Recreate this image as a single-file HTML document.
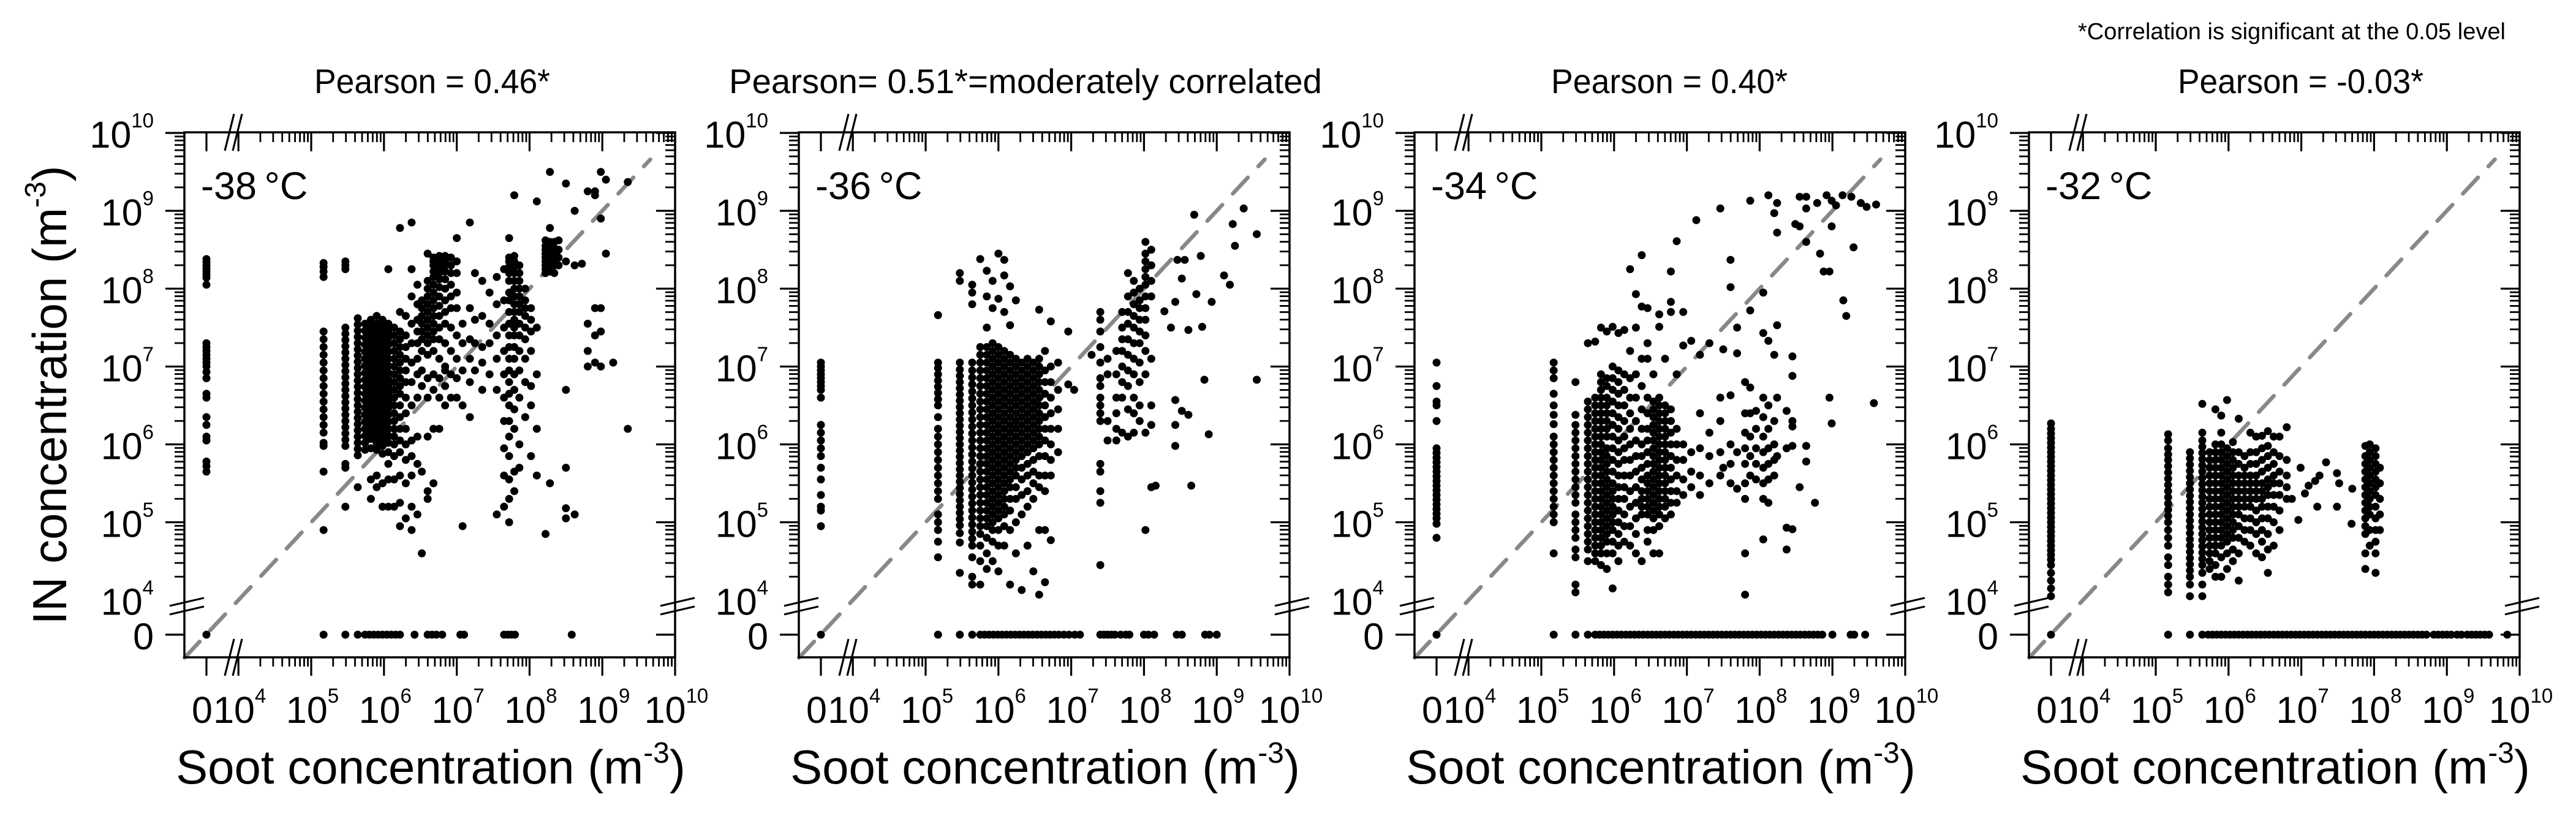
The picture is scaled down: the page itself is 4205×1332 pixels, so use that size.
<!DOCTYPE html>
<html><head><meta charset="utf-8"><title>IN vs Soot concentration</title>
<style>html,body{margin:0;padding:0;background:#fff;}svg{display:block;font-family:"Liberation Sans",Arial,sans-serif;}</style>
</head><body>
<svg id="fig" xmlns="http://www.w3.org/2000/svg" width="4205" height="1332" viewBox="0 0 4205 1332">
<rect x="0" y="0" width="4205" height="1332" fill="#fff"/>
<text x="3392" y="64" font-size="38" textLength="698" lengthAdjust="spacingAndGlyphs">*Correlation is significant at the 0.05 level</text>
<text x="513" y="152" font-size="56" textLength="385" lengthAdjust="spacingAndGlyphs">Pearson = 0.46*</text>
<text x="1190" y="152" font-size="56" textLength="968" lengthAdjust="spacingAndGlyphs">Pearson= 0.51*=moderately correlated</text>
<text x="2532" y="152" font-size="56" textLength="386" lengthAdjust="spacingAndGlyphs">Pearson = 0.40*</text>
<text x="3555" y="152" font-size="56" textLength="401" lengthAdjust="spacingAndGlyphs">Pearson = -0.03*</text>
<text transform="translate(108,645) rotate(-90)" text-anchor="middle" font-size="78">IN concentration (m<tspan font-size="48" dy="-34">-3</tspan><tspan dy="34">)</tspan></text>
</svg>
<script>
// ---- data: log10 exponents; null = zero concentration ----
const panelLefts = [301, 1304, 2309, 3312];
const tempLabels = ["-38\u2009°C", "-36\u2009°C", "-34\u2009°C", "-32\u2009°C"];
const xTickExps = [5, 6, 7, 8, 9, 10];
const yTickExps = [5, 6, 7, 8, 9, 10];

// Panel 1 (-38 C)
const soot1 = [null,5.17,5.47,5.64,5.74,5.82,5.9,5.98,6.06,6.14,6.22,6.3,6.38,6.46,6.52,6.6,6.68,6.76,6.84,6.92,7.0,7.08,7.18,7.25,7.35,7.45,7.55,7.65,7.72,7.79,7.86,7.94,8.02,8.1,8.22,8.28,8.34,8.4,8.5,8.62,8.72,8.8,8.9,8.98,9.05,9.15,9.35];
const in1 = [
[8.38,8.34,8.3,8.26,8.22,8.18,8.14,8.05,7.3,7.25,7.2,7.15,7.1,7.05,7.0,6.93,6.85,6.65,6.6,6.35,6.25,6.1,6.05,5.78,5.72,5.65],
[8.33,8.28,8.22,8.15,7.45,7.35,7.25,7.15,7.05,6.95,6.85,6.75,6.65,6.55,6.45,6.35,6.25,6.15,6.02,5.98,5.65,4.9],
[8.35,8.3,8.25,7.5,7.42,7.34,7.26,7.18,7.1,7.02,6.94,6.86,6.78,6.7,6.62,6.54,6.46,6.38,6.3,6.22,6.14,6.06,5.98,5.75,5.7,5.2],
[7.62,7.54,7.46,7.38,7.3,7.22,7.14,7.06,6.98,6.9,6.82,6.74,6.66,6.58,6.5,6.42,6.34,6.26,6.18,6.1,6.02,5.94,5.86,5.45],
[7.55,7.46,7.37,7.28,7.19,7.1,7.01,6.92,6.83,6.74,6.65,6.56,6.47,6.38,6.29,6.2,6.11,6.02,5.93],
[7.6,7.51,7.42,7.33,7.24,7.15,7.06,6.97,6.88,6.79,6.7,6.61,6.52,6.43,6.34,6.25,6.16,6.07,5.95,5.55,5.3],
[7.65,7.55,7.46,7.37,7.28,7.19,7.1,7.01,6.92,6.83,6.74,6.65,6.56,6.47,6.38,6.29,6.2,6.11,6.02,5.93,5.6,5.45],
[7.6,7.51,7.42,7.33,7.24,7.15,7.06,6.97,6.88,6.79,6.7,6.61,6.52,6.43,6.34,6.25,6.16,6.07,5.98,5.88,5.5,5.2],
[8.25,7.55,7.46,7.37,7.28,7.19,7.1,7.01,6.92,6.83,6.74,6.65,6.56,6.47,6.38,6.29,6.2,6.11,6.02,5.9,5.75,5.55,5.2],
[7.5,7.4,7.3,7.2,7.1,7.0,6.9,6.8,6.7,6.6,6.5,6.4,6.3,6.2,6.1,6.0,5.85,5.55,5.2],
[8.78,7.7,7.45,7.35,7.25,7.15,7.05,6.95,6.85,6.75,6.65,6.5,6.35,6.2,6.05,5.9,5.6,5.25,4.95],
[7.65,7.4,7.25,7.1,6.95,6.8,6.6,6.4,6.2,6.0,5.8,5.5,5.05],
[8.85,8.25,7.9,7.55,7.3,7.05,6.8,6.5,6.05,5.85,5.6,5.2,4.9],
[8.05,7.8,7.6,7.45,7.3,7.1,6.9,6.6,6.1,5.75,5.1],
[7.85,7.75,7.65,7.55,7.45,7.35,7.2,6.95,6.75,5.65,4.6],
[8.45,8.1,8.0,7.9,7.8,7.7,7.6,7.5,7.4,7.3,7.15,6.85,6.6,6.1,5.4,5.3],
[8.4,8.35,8.3,8.22,8.15,8.05,7.95,7.85,7.75,7.65,7.55,7.45,7.35,7.2,6.9,6.7,6.2,5.5],
[8.42,8.37,8.32,8.27,8.2,8.12,8.02,7.9,7.78,7.65,7.5,7.35,7.1,6.85,6.6,6.2],
[8.42,8.36,8.3,8.22,8.12,8.0,7.85,7.7,7.55,7.3,7.0,6.75,6.5,6.95],
[8.4,8.3,8.2,8.05,7.9,7.75,7.5,7.2,6.9,6.6],
[8.65,8.35,8.2,7.95,7.75,7.4,7.1,6.85,6.6],
[7.55,7.3,6.95,6.5,4.95],
[8.85,7.75,7.35,7.1,6.8,6.35],
[8.2,7.6,7.3,6.95],
[8.1,7.65,7.25,7.05,6.7],
[7.95,7.55,7.3,6.9],
[8.15,7.8,7.4,7.1,6.7,5.1],
[8.25,7.85,7.5,7.2,6.9,6.6,6.3,5.95,5.6,5.2],
[8.65,8.4,8.35,8.28,8.2,8.1,7.95,7.85,7.7,7.55,7.4,7.25,7.1,6.95,6.8,6.65,6.5,6.3,6.1,5.85,5.55,5.3,5.0],
[9.2,8.42,8.35,8.28,8.2,8.1,8.0,7.9,7.8,7.7,7.6,7.5,7.4,7.25,7.1,6.9,6.7,6.45,6.2,5.65,5.4],
[8.3,8.2,8.1,8.0,7.9,7.8,7.7,7.55,7.4,7.2,6.95,6.6,6.0,5.7],
[8.0,7.85,7.75,7.65,7.5,7.35,7.1,6.8,6.35],
[7.75,7.6,7.45,7.2,6.75,6.5,5.85],
[9.12,7.5,6.9,6.2,5.6],
[8.62,8.55,8.5,8.45,8.4,8.35,8.3,8.25,8.2,4.85],
[9.5,8.78,8.6,8.52,8.45,8.4,8.33,8.27,8.22,5.5],
[8.6,8.52,8.45,8.38,8.3,8.2],
[8.62,8.5,8.4,8.3],
[8.35,9.35,6.7,5.7,5.18,5.05],
[9.0,8.3,5.1],
[8.32],
[7.55,7.2,7.0,9.25],
[9.25,9.2,7.75,7.4,7.05],
[7.75,7.45,7.0,9.5,8.9],
[9.4,8.45],
[7.05],
[9.37,6.2]
];
const zeroIn1 = [null,5.17,5.47,5.64,5.74,5.8,5.86,5.92,5.98,6.04,6.1,6.16,6.22,6.42,6.6,6.66,6.72,6.8,7.05,7.1,7.65,7.7,7.75,7.8,8.58];

// Panel 2 (-36 C)
const soot2 = [null,5.17,5.47,5.64,5.75,5.84,5.92,6.0,6.08,6.16,6.24,6.32,6.4,6.48,6.56,6.64,6.72,6.82,6.96,7.04,7.28,7.4,7.5,7.62,7.7,7.78,7.86,7.94,8.02,8.1,8.16,8.28,8.37,8.43,8.46,8.52,8.56,8.61,8.65,8.69,8.72,8.78,8.8,8.83,8.89,8.93,9.1,9.18,9.22,9.25,9.37,9.55];
const in2 = [
[7.05,7.0,6.95,6.9,6.85,6.8,6.75,6.7,6.6,6.25,6.15,6.05,5.95,5.85,5.7,5.55,5.35,5.2,5.15,4.95],
[7.66,7.05,6.98,6.9,6.82,6.74,6.66,6.58,6.5,6.35,6.2,6.1,6.0,5.9,5.8,5.7,5.6,5.5,5.4,5.3,5.1,5.0,4.9,4.75,4.55],
[8.2,8.1,7.05,6.96,6.88,6.8,6.72,6.64,6.56,6.48,6.4,6.32,6.24,6.16,6.08,6.0,5.92,5.84,5.76,5.68,5.6,5.52,5.44,5.36,5.28,5.2,5.12,5.04,4.96,4.86,4.74,4.35],
[8.05,7.95,7.8,7.05,6.95,6.86,6.77,6.68,6.59,6.5,6.41,6.32,6.23,6.14,6.05,5.96,5.87,5.78,5.69,5.6,5.51,5.42,5.33,5.24,5.15,5.06,4.97,4.88,4.79,4.7,4.55,4.3,4.2],
[8.38,7.25,7.15,7.05,6.95,6.85,6.75,6.65,6.55,6.45,6.35,6.25,6.15,6.05,5.95,5.85,5.75,5.65,5.55,5.45,5.35,5.25,5.15,5.05,4.95,4.85,4.7,4.5,4.2],
[8.23,7.9,7.5,7.25,7.15,7.05,6.95,6.85,6.75,6.65,6.55,6.45,6.35,6.25,6.15,6.05,5.95,5.85,5.75,5.65,5.55,5.45,5.35,5.25,5.15,5.05,4.95,4.8,4.6,4.4],
[8.1,7.75,7.3,7.2,7.1,7.0,6.9,6.8,6.7,6.6,6.5,6.4,6.3,6.2,6.1,6.0,5.9,5.8,5.7,5.6,5.5,5.4,5.3,5.2,5.1,5.0,4.9,4.75,4.5],
[8.45,7.87,7.25,7.15,7.05,6.95,6.85,6.75,6.65,6.55,6.45,6.35,6.25,6.15,6.05,5.95,5.85,5.75,5.65,5.55,5.45,5.35,5.25,5.15,5.05,4.9,4.7,4.37],
[8.37,8.17,7.7,7.2,7.1,7.0,6.9,6.8,6.7,6.6,6.5,6.4,6.3,6.2,6.1,6.0,5.9,5.8,5.7,5.6,5.5,5.4,5.3,5.2,5.1,4.95,4.7],
[8.03,7.53,7.15,7.05,6.95,6.85,6.75,6.65,6.55,6.45,6.35,6.25,6.15,6.05,5.95,5.85,5.75,5.65,5.55,5.45,5.3,5.15,4.9,4.2],
[7.85,7.1,7.0,6.9,6.8,6.7,6.6,6.5,6.4,6.3,6.2,6.1,6.0,5.9,5.8,5.7,5.6,5.45,5.3,5.0,4.6],
[7.05,6.95,6.85,6.75,6.65,6.55,6.45,6.35,6.25,6.15,6.05,5.95,5.85,5.7,5.55,5.35,5.1,4.13],
[7.1,7.0,6.9,6.8,6.7,6.6,6.5,6.4,6.3,6.2,6.1,6.0,5.9,5.75,5.6,5.4,5.2,4.7],
[7.05,6.95,6.85,6.75,6.65,6.55,6.45,6.35,6.25,6.15,6.05,5.95,5.8,5.65,5.5,5.3,4.37],
[7.73,7.1,7.0,6.9,6.8,6.7,6.6,6.5,6.4,6.3,6.2,6.1,6.0,5.85,5.6,5.45,4.9,4.07],
[7.2,6.95,6.8,6.65,6.5,6.35,6.2,6.05,5.85,5.6,5.4,4.9,4.23],
[7.58,7.0,6.8,6.6,6.4,6.2,6.0,5.8,5.6,4.77],
[7.05,6.7,6.45,6.2,5.9],
[7.45,6.77],
[6.7],
[7.15],
[7.7,7.6,7.45,7.25,7.05,6.85,6.75,6.6,6.5,6.4,6.3,5.75,5.65,5.4,5.25,4.45],
[7.1,6.9,6.3,6.05],
[7.2,6.9,6.6,6.4,6.2,6.05],
[7.7,7.5,7.35,7.2,7.0,6.8,6.6,6.15],
[8.2,7.9,7.7,7.55,7.35,7.15,6.95,6.75,6.45,6.1],
[8.1,7.95,7.8,7.65,7.5,7.3,7.1,6.9,6.6,6.4,6.15],
[8.0,7.85,7.75,7.6,7.45,7.3,7.05,6.8,6.5,6.3],
[8.6,8.45,8.35,8.25,8.15,8.05,7.9,7.75,7.6,7.4,7.2,6.9,6.15,4.9],
[8.5,8.3,8.1,7.9,7.1,6.5,6.25,5.45],
[5.47],
[7.71],
[7.5],
[7.83,6.57,6.25,5.98],
[8.37],
[8.13,6.43],
[8.37],
[7.47,6.38],
[5.47],
[8.95],
[7.93],
[8.42],
[7.51],
[6.83],
[6.13],
[7.83],
[8.17],
[8.05],
[8.83],
[8.55],
[9.03],
[8.7,6.83]
];
const zeroIn2 = [null,5.17,5.47,5.64,5.75,5.81,5.87,5.93,5.99,6.05,6.11,6.17,6.23,6.29,6.35,6.41,6.47,6.53,6.59,6.65,6.71,6.77,6.83,6.9,6.97,7.05,7.12,7.4,7.45,7.5,7.55,7.6,7.68,7.75,7.8,8.0,8.06,8.14,8.45,8.52,8.84,8.9,9.0];

// Panel 3 (-34 C)
const soot3 = [null,5.17,5.47,5.64,5.74,5.82,5.9,5.98,6.06,6.14,6.22,6.3,6.38,6.46,6.54,6.62,6.7,6.78,6.86,6.95,7.06,7.13,7.18,7.31,7.46,7.5,7.6,7.69,7.8,7.87,7.95,8.05,8.12,8.2,8.24,8.37,8.45,8.49,8.55,8.64,8.76,8.79,8.83,8.88,8.92,8.96,8.99,9.05,9.14,9.15,9.19,9.26,9.29,9.39,9.47,9.57,9.6];
const in3 = [
[7.05,6.75,6.55,6.5,6.3,5.95,5.89,5.83,5.77,5.71,5.65,5.59,5.53,5.47,5.41,5.35,5.29,5.23,5.17,5.11,5.05,4.98,4.8],
[7.05,6.95,6.85,6.65,6.5,6.38,6.26,6.1,6.0,5.9,5.8,5.7,5.6,5.5,5.4,5.3,5.2,5.1,5.0,4.6],
[6.8,6.38,6.25,6.15,6.05,5.95,5.85,5.75,5.65,5.55,5.45,5.35,5.25,5.1,5.0,4.9,4.8,4.65,4.55,4.2,4.1],
[7.3,6.55,6.45,6.35,6.25,6.15,6.05,5.95,5.85,5.75,5.65,5.55,5.45,5.35,5.25,5.15,5.05,4.95,4.85,4.75,4.65,4.5],
[7.32,6.6,6.5,6.4,6.3,6.2,6.1,6.0,5.9,5.8,5.7,5.6,5.5,5.4,5.3,5.2,5.1,5.0,4.9,4.8,4.7,4.6,4.5],
[7.5,6.9,6.8,6.7,6.6,6.5,6.4,6.3,6.2,6.1,6.0,5.9,5.8,5.7,5.6,5.5,5.4,5.3,5.2,5.1,5.0,4.9,4.8,4.7,4.6,4.45],
[7.45,6.85,6.75,6.6,6.5,6.4,6.3,6.2,6.1,5.95,5.85,5.75,5.65,5.55,5.45,5.35,5.25,5.15,5.05,4.95,4.85,4.75,4.6,4.4],
[7.51,7.0,6.85,6.7,6.55,6.4,6.25,6.1,5.95,5.8,5.65,5.5,5.4,5.3,5.2,5.1,5.0,4.9,4.75,4.6,4.15],
[7.43,6.95,6.8,6.65,6.5,6.35,6.2,6.05,5.9,5.75,5.6,5.45,5.3,5.15,5.0,4.85,4.7,4.5],
[7.47,6.9,6.7,6.5,6.3,6.1,5.95,5.8,5.6,5.45,5.3,5.1,4.95,4.75],
[8.25,7.2,6.85,6.6,6.4,6.2,6.0,5.8,5.6,5.4,5.2,4.95,4.7],
[7.93,7.5,6.9,6.6,6.3,6.05,5.85,5.65,5.45,5.25,5.05,4.85,4.6],
[8.43,7.77,7.1,6.75,6.45,6.2,6.0,5.85,5.7,5.55,5.4,5.3,5.2,5.1,4.5],
[7.75,7.3,7.1,6.6,6.4,6.2,6.05,5.9,5.75,5.6,5.5,5.4,5.3,5.2,5.1,4.9,4.75],
[6.9,6.55,6.45,6.35,6.25,6.15,6.05,5.95,5.85,5.75,5.65,5.55,5.45,5.35,5.25,5.15,5.05,4.9,4.6],
[7.67,7.51,6.6,6.5,6.4,6.3,6.2,6.1,6.0,5.9,5.8,5.7,5.6,5.5,5.4,5.3,5.2,5.1,4.95,4.6],
[7.1,6.5,6.4,6.3,6.2,6.1,6.0,5.9,5.8,5.7,5.6,5.5,5.4,5.3,5.2,5.05],
[8.22,7.83,7.7,6.45,6.3,6.15,6.0,5.85,5.7,5.55,5.4,5.25,5.1],
[8.61,6.9,6.2,6.0,5.8,5.6,5.4,5.25],
[7.7,7.27,6.0,5.8,5.55,5.35],
[7.33,5.9,5.65,5.45],
[8.88],
[7.15,6.4,5.95,5.6,5.35],
[7.3,6.15,5.85,5.5],
[9.03,6.6,6.3,5.9,5.6],
[7.22,5.7],
[8.37,8.02,6.63,6.0,5.75,5.5],
[7.5,7.17,5.9,5.43],
[6.8,6.4,6.15,5.95,5.75,5.5,5.3,4.6,4.07],
[9.13,7.72,6.73,6.4,6.1,5.85,5.6],
[6.43,6.2,5.95,5.75,5.55],
[7.95,7.43,6.6,6.35,6.1,5.9,5.7,5.5,5.3,4.78],
[9.2,7.33,6.5,6.2,5.95,5.75,5.55,5.25],
[8.97,7.15,6.3,6.0,5.8,5.6],
[9.1,8.72,7.53,6.6,5.85],
[6.43,5.95,4.93,4.65],
[7.13,6.88,6.3,6.23,5.98,4.91],
[8.83],
[9.18,8.8,5.45],
[9.18,9.03,8.6,5.98,5.78],
[5.25],
[9.1],
[8.45],
[8.22],
[9.2],
[8.22,6.6],
[9.13,8.8,6.27],
[9.07],
[9.2],
[7.85],
[7.65],
[9.18],
[8.53],
[9.1],
[9.05],
[6.53],
[9.08]
];
const zeroIn3 = [null,5.17,5.47,5.64,5.74,5.8,5.86,5.92,5.98,6.04,6.1,6.16,6.22,6.28,6.34,6.4,6.46,6.52,6.58,6.64,6.7,6.76,6.82,6.88,6.94,7.0,7.06,7.12,7.18,7.24,7.3,7.36,7.42,7.48,7.54,7.6,7.66,7.72,7.78,7.84,7.9,7.96,8.02,8.08,8.14,8.2,8.26,8.32,8.38,8.44,8.5,8.56,8.62,8.68,8.74,8.8,8.86,9.0,9.25,9.3,9.45];

// Panel 4 (-32 C)
const soot4 = [null,5.17,5.47,5.64,5.74,5.82,5.9,5.98,6.06,6.14,6.22,6.3,6.38,6.46,6.54,6.62,6.7,6.8,6.87,6.96,6.99,7.05,7.1,7.19,7.22,7.25,7.34,7.49,7.52,7.69,7.7,7.88,7.94,8.02,8.08];
const in4 = [
[6.27,6.2,6.14,6.08,6.02,5.96,5.9,5.84,5.78,5.72,5.66,5.6,5.54,5.48,5.42,5.36,5.3,5.24,5.18,5.12,5.06,5.0,4.94,4.88,4.82,4.76,4.7,4.64,4.58,4.52,4.45,4.35,4.25,4.15,4.05],
[6.13,6.05,5.95,5.87,5.8,5.72,5.64,5.56,5.48,5.4,5.32,5.24,5.16,5.08,5.0,4.9,4.8,4.7,4.55,4.45,4.3,4.2,4.1],
[5.9,5.82,5.74,5.66,5.58,5.5,5.42,5.34,5.26,5.18,5.1,5.02,4.94,4.86,4.78,4.7,4.62,4.54,4.46,4.38,4.3,4.2,4.05],
[6.52,6.15,6.05,5.97,5.89,5.81,5.73,5.65,5.57,5.49,5.41,5.33,5.25,5.17,5.09,5.01,4.93,4.85,4.77,4.69,4.61,4.53,4.45,4.35,4.2,4.05],
[5.9,5.8,5.7,5.6,5.5,5.4,5.3,5.2,5.1,5.0,4.9,4.8,4.7,4.6,4.5,4.4],
[6.45,6.0,5.9,5.8,5.7,5.6,5.5,5.4,5.3,5.2,5.1,5.0,4.9,4.8,4.7,4.6,4.45,4.3],
[6.37,6.15,6.0,5.9,5.8,5.7,5.6,5.5,5.4,5.3,5.2,5.1,5.0,4.9,4.8,4.7,4.55,4.3],
[6.57,5.95,5.85,5.75,5.65,5.55,5.45,5.35,5.25,5.15,5.05,4.95,4.85,4.75,4.6,4.4],
[6.03,5.9,5.8,5.7,5.6,5.5,5.4,5.3,5.2,5.1,5.0,4.9,4.8,4.65,4.5],
[6.33,5.9,5.75,5.6,5.5,5.4,5.3,5.2,5.1,4.95,4.8,4.6,4.25],
[5.85,5.7,5.6,5.5,5.4,5.3,5.2,5.05,4.9,4.75],
[6.15,5.9,5.75,5.6,5.5,5.4,5.3,5.2,5.05,4.9,4.7],
[6.1,5.9,5.75,5.6,5.5,5.4,5.3,5.15,5.0,4.85,4.6],
[6.11,5.95,5.8,5.65,5.5,5.4,5.3,5.2,5.05,4.9,4.75,4.55],
[6.17,5.98,5.85,5.7,5.55,5.45,5.35,5.2,5.05,4.85,4.65,4.35],
[6.1,5.9,5.75,5.6,5.5,5.35,5.2,5.0,4.7],
[6.1,5.85,5.65,5.5,5.35,5.15,4.9],
[6.22,5.8,5.6,5.45,5.3],
[5.3],
[5.03],
[5.7],
[5.37],
[5.47],
[5.53],
[5.2],
[5.6],
[5.77],
[5.63,5.2],
[5.5],
[4.98],
[5.43],
[5.98,5.85,5.75,5.65,5.55,5.45,5.35,5.25,5.15,5.05,4.95,4.85,4.6,4.4],
[6.0,5.9,5.8,5.7,5.6,5.5,5.4,5.3,5.2,5.1,4.9,4.7],
[5.95,5.85,5.75,5.65,5.55,5.45,5.35,5.2,5.05,4.9,4.75,4.6,4.35],
[5.7,5.5,5.3,5.1,4.9]
];
const zeroIn4 = [null,5.17,5.47,5.64,5.72,5.78,5.84,5.9,5.96,6.02,6.08,6.14,6.2,6.26,6.32,6.38,6.44,6.5,6.56,6.62,6.68,6.74,6.8,6.86,6.92,6.98,7.04,7.1,7.16,7.22,7.28,7.34,7.4,7.46,7.52,7.58,7.64,7.7,7.76,7.82,7.88,7.94,8.0,8.06,8.12,8.18,8.24,8.3,8.36,8.42,8.48,8.54,8.6,8.66,8.72,8.82,8.88,8.94,9.0,9.06,9.14,9.2,9.28,9.34,9.4,9.46,9.52,9.58,9.83];

const sootSets = [soot1, soot2, soot3, soot4];
const inSets = [in1, in2, in3, in4];
const zeroSets = [zeroIn1, zeroIn2, zeroIn3, zeroIn4];

// ---- geometry ----
const NS = "http://www.w3.org/2000/svg";
const svg = document.getElementById("fig");
const TOP = 216, BOT = 1073, W = 801;
const DEC_X = 118.8, DEC_Y = 127.1;
function xPos(L, e) { return e === null ? L + 36 : L + 207 + (e - 5) * DEC_X; }
function yPos(e) { return e === null ? 1036 : 217 + (10 - e) * DEC_Y; }
function mk(tag, attrs, parent) {
  const el = document.createElementNS(NS, tag);
  for (const k in attrs) el.setAttribute(k, attrs[k]);
  (parent || svg).appendChild(el);
  return el;
}
function line(g, x1, y1, x2, y2, w) {
  return mk("line", {x1: x1, y1: y1, x2: x2, y2: y2, stroke: "#000", "stroke-width": w || 3.2}, g);
}

panelLefts.forEach(function (L, p) {
  const R = L + W;
  const g = mk("g", {});
  
  

  const d = mk("line", {x1: xPos(L, 3.26), y1: yPos(3.26), x2: xPos(L, 9.66), y2: yPos(9.66),
    stroke: "#888", "stroke-width": 6.5, "stroke-dasharray": "36 25", "stroke-linecap": "round"}, g);
  
  

  const pts = mk("g", {fill: "#000"}, g);
  
  
  const soot = sootSets[p], inn = inSets[p];
  soot.forEach(function (sx, i) {
    inn[i].forEach(function (iy) {
      const c = mk("circle", {cx: xPos(L, sx).toFixed(1), cy: yPos(iy).toFixed(1), r: 6.5}, pts);
      
      
    });
  });
  zeroSets[p].forEach(function (sx) {
    const c = mk("circle", {cx: xPos(L, sx).toFixed(1), cy: yPos(null), r: 6.5}, pts);
    
    
  });

  const fr = mk("rect", {x: L, y: TOP, width: W, height: BOT - TOP, fill: "none", stroke: "#000", "stroke-width": 3.5}, g);
  
  

  const ax = mk("g", {}, g);
  
  
  for (let e = 4; e <= 10; e++) {
    const x = xPos(L, e);
    line(ax, x, TOP, x, TOP + 31); line(ax, x, BOT, x, BOT + 30);
    if (e < 10) for (let m = 2; m <= 9; m++) {
      const xm = xPos(L, e + Math.log10(m));
      line(ax, xm, TOP, xm, TOP + 16, 2.8); line(ax, xm, BOT, xm, BOT + 15, 2.8);
    }
  }
  const x0 = xPos(L, null);
  line(ax, x0, TOP, x0, TOP + 31); line(ax, x0, BOT, x0, BOT + 30);
  for (let e = 4; e <= 10; e++) {
    const y = yPos(e);
    if (e > 4) { line(ax, L - 31, y, L, y); line(ax, R - 31, y, R, y); }
    if (e < 10) for (let m = 2; m <= 9; m++) {
      const ym = yPos(e + Math.log10(m));
      line(ax, L - 16, ym, L, ym, 2.8); line(ax, R - 16, ym, R, ym, 2.8);
    }
  }
  const y0 = yPos(null);
  line(ax, L - 31, y0, L, y0); line(ax, R - 31, y0, R, y0);
  [TOP, BOT].forEach(function (yb) {
    line(ax, L + 66, yb + 30, L + 81, yb - 30, 3.2);
    line(ax, L + 79, yb + 30, L + 94, yb - 30, 3.2);
  });
  [L, R].forEach(function (xb) {
    line(ax, xb - 24, 989, xb + 32, 976, 3.2);
    line(ax, xb - 24, 1003, xb + 32, 990, 3.2);
  });

  const lab = mk("g", {"font-size": 61}, g);
  
  
  yTickExps.concat([4]).forEach(function (e) {
    const t = mk("text", {x: L - 50, y: yPos(e) + 24, "text-anchor": "end"}, lab);
    
    
    t.textContent = "10";
    const s = mk("tspan", {"font-size": 33, dy: -33}, t);
    s.textContent = String(e);
  });
  const ty0 = mk("text", {x: L - 50, y: yPos(null) + 24, "text-anchor": "end"}, lab);
  
  
  ty0.textContent = "0";
  [4].concat(xTickExps).forEach(function (e) {
    const t = mk("text", {x: (xPos(L, e) + 2).toFixed(1), y: 1180, "text-anchor": "middle", "font-size": 61}, lab);
    
    
    t.textContent = "10";
    const s = mk("tspan", {"font-size": 33, dy: -33}, t);
    s.textContent = String(e);
  });
  const tx0 = mk("text", {x: (xPos(L, null) - 7).toFixed(1), y: 1180, "text-anchor": "middle", "font-size": 61}, lab);
  
  
  tx0.textContent = "0";

  const tl = mk("text", {x: L + 27, y: 325, "font-size": 63}, g);
  
  
  tl.textContent = tempLabels[p];

  const xt = mk("text", {x: L + 402, y: 1279, "text-anchor": "middle", "font-size": 78}, g);
  
  
  xt.textContent = "Soot concentration (m";
  const sup = mk("tspan", {"font-size": 48, dy: -34}, xt);
  sup.textContent = "-3";
  const cl = mk("tspan", {dy: 34}, xt);
  cl.textContent = ")";
});
</script>
</body></html>
